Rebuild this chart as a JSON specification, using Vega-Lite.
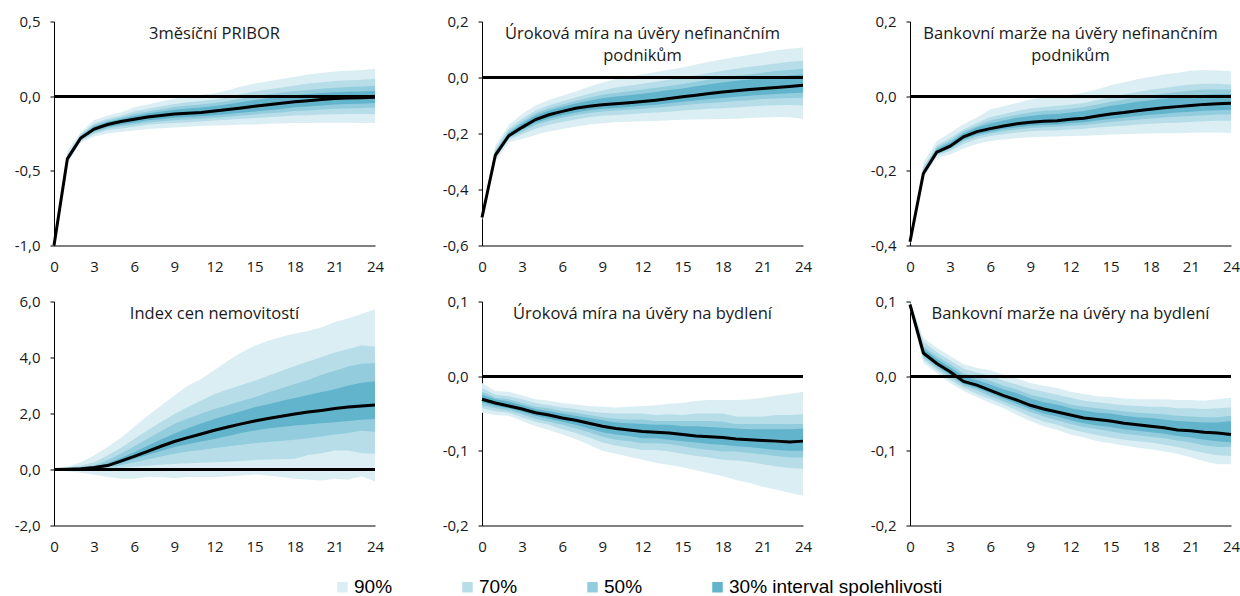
{
  "$schema": "https://vega.github.io/schema/vega-lite/v6.json",
  "background": "white",
  "padding": {"left": 14, "top": 14.5, "right": 5, "bottom": 5},
  "spacing": 20,
  "datasets": {
    "p1": [
      {"h":0,"m":-1.0,"lo90":-1.0,"hi90":-0.99,"lo70":-1.0,"hi70":-0.993,"lo50":-1.0,"hi50":-0.996,"lo30":-1.0,"hi30":-0.998},
      {"h":1,"m":-0.42,"lo90":-0.45,"hi90":-0.37,"lo70":-0.44,"hi70":-0.388,"lo50":-0.434,"hi50":-0.398,"lo30":-0.428,"hi30":-0.406},
      {"h":2,"m":-0.28,"lo90":-0.31,"hi90":-0.24,"lo70":-0.30,"hi70":-0.254,"lo50":-0.294,"hi50":-0.262,"lo30":-0.288,"hi30":-0.269},
      {"h":3,"m":-0.22,"lo90":-0.27,"hi90":-0.16,"lo70":-0.253,"hi70":-0.181,"lo50":-0.243,"hi50":-0.193,"lo30":-0.234,"hi30":-0.203},
      {"h":4,"m":-0.19,"lo90":-0.25,"hi90":-0.13,"lo70":-0.229,"hi70":-0.151,"lo50":-0.217,"hi50":-0.163,"lo30":-0.207,"hi30":-0.173},
      {"h":5,"m":-0.17,"lo90":-0.24,"hi90":-0.11,"lo70":-0.216,"hi70":-0.131,"lo50":-0.202,"hi50":-0.143,"lo30":-0.19,"hi30":-0.153},
      {"h":6,"m":-0.155,"lo90":-0.23,"hi90":-0.075,"lo70":-0.204,"hi70":-0.103,"lo50":-0.189,"hi50":-0.119,"lo30":-0.176,"hi30":-0.133},
      {"h":7,"m":-0.14,"lo90":-0.22,"hi90":-0.055,"lo70":-0.192,"hi70":-0.085,"lo50":-0.176,"hi50":-0.102,"lo30":-0.162,"hi30":-0.116},
      {"h":8,"m":-0.13,"lo90":-0.215,"hi90":-0.035,"lo70":-0.185,"hi70":-0.068,"lo50":-0.168,"hi50":-0.087,"lo30":-0.154,"hi30":-0.103},
      {"h":9,"m":-0.12,"lo90":-0.21,"hi90":-0.015,"lo70":-0.179,"hi70":-0.052,"lo50":-0.161,"hi50":-0.073,"lo30":-0.145,"hi30":-0.091},
      {"h":10,"m":-0.115,"lo90":-0.205,"hi90":0.0,"lo70":-0.174,"hi70":-0.04,"lo50":-0.156,"hi50":-0.063,"lo30":-0.14,"hi30":-0.083},
      {"h":11,"m":-0.11,"lo90":-0.2,"hi90":0.01,"lo70":-0.169,"hi70":-0.032,"lo50":-0.151,"hi50":-0.056,"lo30":-0.135,"hi30":-0.076},
      {"h":12,"m":-0.1,"lo90":-0.197,"hi90":0.02,"lo70":-0.163,"hi70":-0.022,"lo50":-0.144,"hi50":-0.046,"lo30":-0.127,"hi30":-0.066},
      {"h":13,"m":-0.09,"lo90":-0.195,"hi90":0.04,"lo70":-0.158,"hi70":-0.005,"lo50":-0.137,"hi50":-0.032,"lo30":-0.119,"hi30":-0.054},
      {"h":14,"m":-0.08,"lo90":-0.19,"hi90":0.065,"lo70":-0.152,"hi70":0.014,"lo50":-0.13,"hi50":-0.015,"lo30":-0.111,"hi30":-0.039},
      {"h":15,"m":-0.068,"lo90":-0.19,"hi90":0.085,"lo70":-0.147,"hi70":0.031,"lo50":-0.123,"hi50":0.001,"lo30":-0.102,"hi30":-0.025},
      {"h":16,"m":-0.058,"lo90":-0.185,"hi90":0.1,"lo70":-0.141,"hi70":0.045,"lo50":-0.115,"hi50":0.013,"lo30":-0.094,"hi30":-0.014},
      {"h":17,"m":-0.048,"lo90":-0.183,"hi90":0.115,"lo70":-0.136,"hi70":0.058,"lo50":-0.109,"hi50":0.025,"lo30":-0.086,"hi30":-0.002},
      {"h":18,"m":-0.038,"lo90":-0.18,"hi90":0.13,"lo70":-0.13,"hi70":0.071,"lo50":-0.1,"hi50":0.033,"lo30":-0.075,"hi30":0.006},
      {"h":19,"m":-0.03,"lo90":-0.18,"hi90":0.145,"lo70":-0.128,"hi70":0.084,"lo50":-0.096,"hi50":0.042,"lo30":-0.069,"hi30":0.015},
      {"h":20,"m":-0.022,"lo90":-0.178,"hi90":0.155,"lo70":-0.123,"hi70":0.093,"lo50":-0.09,"hi50":0.05,"lo30":-0.062,"hi30":0.022},
      {"h":21,"m":-0.015,"lo90":-0.178,"hi90":0.165,"lo70":-0.121,"hi70":0.102,"lo50":-0.084,"hi50":0.057,"lo30":-0.055,"hi30":0.027},
      {"h":22,"m":-0.012,"lo90":-0.178,"hi90":0.17,"lo70":-0.12,"hi70":0.106,"lo50":-0.082,"hi50":0.062,"lo30":-0.052,"hi30":0.03},
      {"h":23,"m":-0.01,"lo90":-0.18,"hi90":0.175,"lo70":-0.12,"hi70":0.11,"lo50":-0.08,"hi50":0.065,"lo30":-0.05,"hi30":0.032},
      {"h":24,"m":-0.007,"lo90":-0.18,"hi90":0.183,"lo70":-0.119,"hi70":0.117,"lo50":-0.076,"hi50":0.069,"lo30":-0.045,"hi30":0.035}
    ],
    "p2": [
      {"h":0,"m":-0.5,"lo90":-0.51,"hi90":-0.49,"lo70":-0.506,"hi70":-0.494,"lo50":-0.504,"hi50":-0.496,"lo30":-0.502,"hi30":-0.497},
      {"h":1,"m":-0.277,"lo90":-0.3,"hi90":-0.243,"lo70":-0.291,"hi70":-0.255,"lo50":-0.286,"hi50":-0.262,"lo30":-0.282,"hi30":-0.267},
      {"h":2,"m":-0.208,"lo90":-0.23,"hi90":-0.17,"lo70":-0.221,"hi70":-0.183,"lo50":-0.216,"hi50":-0.191,"lo30":-0.213,"hi30":-0.197},
      {"h":3,"m":-0.178,"lo90":-0.22,"hi90":-0.13,"lo70":-0.203,"hi70":-0.147,"lo50":-0.194,"hi50":-0.157,"lo30":-0.187,"hi30":-0.164},
      {"h":4,"m":-0.15,"lo90":-0.205,"hi90":-0.1,"lo70":-0.183,"hi70":-0.118,"lo50":-0.17,"hi50":-0.128,"lo30":-0.162,"hi30":-0.136},
      {"h":5,"m":-0.133,"lo90":-0.193,"hi90":-0.08,"lo70":-0.169,"hi70":-0.099,"lo50":-0.155,"hi50":-0.11,"lo30":-0.146,"hi30":-0.118},
      {"h":6,"m":-0.121,"lo90":-0.184,"hi90":-0.065,"lo70":-0.159,"hi70":-0.085,"lo50":-0.144,"hi50":-0.096,"lo30":-0.135,"hi30":-0.105},
      {"h":7,"m":-0.11,"lo90":-0.176,"hi90":-0.05,"lo70":-0.15,"hi70":-0.071,"lo50":-0.134,"hi50":-0.084,"lo30":-0.125,"hi30":-0.093},
      {"h":8,"m":-0.103,"lo90":-0.168,"hi90":-0.033,"lo70":-0.142,"hi70":-0.058,"lo50":-0.127,"hi50":-0.072,"lo30":-0.117,"hi30":-0.083},
      {"h":9,"m":-0.097,"lo90":-0.163,"hi90":-0.018,"lo70":-0.137,"hi70":-0.046,"lo50":-0.121,"hi50":-0.062,"lo30":-0.112,"hi30":-0.074},
      {"h":10,"m":-0.094,"lo90":-0.16,"hi90":-0.005,"lo70":-0.134,"hi70":-0.036,"lo50":-0.118,"hi50":-0.055,"lo30":-0.109,"hi30":-0.068},
      {"h":11,"m":-0.09,"lo90":-0.158,"hi90":0.004,"lo70":-0.131,"hi70":-0.029,"lo50":-0.115,"hi50":-0.049,"lo30":-0.105,"hi30":-0.063},
      {"h":12,"m":-0.086,"lo90":-0.156,"hi90":0.012,"lo70":-0.128,"hi70":-0.022,"lo50":-0.112,"hi50":-0.043,"lo30":-0.101,"hi30":-0.058},
      {"h":13,"m":-0.081,"lo90":-0.155,"hi90":0.02,"lo70":-0.125,"hi70":-0.015,"lo50":-0.108,"hi50":-0.037,"lo30":-0.097,"hi30":-0.052},
      {"h":14,"m":-0.075,"lo90":-0.153,"hi90":0.028,"lo70":-0.122,"hi70":-0.008,"lo50":-0.104,"hi50":-0.03,"lo30":-0.092,"hi30":-0.045},
      {"h":15,"m":-0.069,"lo90":-0.151,"hi90":0.036,"lo70":-0.118,"hi70":0.0,"lo50":-0.099,"hi50":-0.023,"lo30":-0.087,"hi30":-0.039},
      {"h":16,"m":-0.063,"lo90":-0.15,"hi90":0.046,"lo70":-0.115,"hi70":0.008,"lo50":-0.095,"hi50":-0.015,"lo30":-0.082,"hi30":-0.031},
      {"h":17,"m":-0.057,"lo90":-0.149,"hi90":0.056,"lo70":-0.112,"hi70":0.016,"lo50":-0.091,"hi50":-0.007,"lo30":-0.077,"hi30":-0.024},
      {"h":18,"m":-0.052,"lo90":-0.148,"hi90":0.065,"lo70":-0.11,"hi70":0.024,"lo50":-0.088,"hi50":0.0,"lo30":-0.073,"hi30":-0.018},
      {"h":19,"m":-0.047,"lo90":-0.147,"hi90":0.073,"lo70":-0.107,"hi70":0.031,"lo50":-0.084,"hi50":0.006,"lo30":-0.069,"hi30":-0.012},
      {"h":20,"m":-0.043,"lo90":-0.145,"hi90":0.081,"lo70":-0.104,"hi70":0.038,"lo50":-0.081,"hi50":0.012,"lo30":-0.065,"hi30":-0.007},
      {"h":21,"m":-0.039,"lo90":-0.143,"hi90":0.089,"lo70":-0.101,"hi70":0.044,"lo50":-0.077,"hi50":0.017,"lo30":-0.062,"hi30":-0.002},
      {"h":22,"m":-0.036,"lo90":-0.141,"hi90":0.097,"lo70":-0.099,"hi70":0.05,"lo50":-0.075,"hi50":0.023,"lo30":-0.059,"hi30":0.003},
      {"h":23,"m":-0.032,"lo90":-0.142,"hi90":0.103,"lo70":-0.098,"hi70":0.056,"lo50":-0.073,"hi50":0.027,"lo30":-0.056,"hi30":0.007},
      {"h":24,"m":-0.028,"lo90":-0.148,"hi90":0.107,"lo70":-0.1,"hi70":0.06,"lo50":-0.072,"hi50":0.031,"lo30":-0.054,"hi30":0.011}
    ],
    "p3": [
      {"h":0,"m":-0.39,"lo90":-0.395,"hi90":-0.385,"lo70":-0.393,"hi70":-0.387,"lo50":-0.392,"hi50":-0.388,"lo30":-0.391,"hi30":-0.389},
      {"h":1,"m":-0.207,"lo90":-0.218,"hi90":-0.178,"lo70":-0.214,"hi70":-0.19,"lo50":-0.211,"hi50":-0.195,"lo30":-0.21,"hi30":-0.199},
      {"h":2,"m":-0.15,"lo90":-0.165,"hi90":-0.12,"lo70":-0.159,"hi70":-0.132,"lo50":-0.156,"hi50":-0.137,"lo30":-0.153,"hi30":-0.142},
      {"h":3,"m":-0.134,"lo90":-0.156,"hi90":-0.098,"lo70":-0.147,"hi70":-0.112,"lo50":-0.142,"hi50":-0.119,"lo30":-0.139,"hi30":-0.124},
      {"h":4,"m":-0.109,"lo90":-0.14,"hi90":-0.075,"lo70":-0.128,"hi70":-0.089,"lo50":-0.121,"hi50":-0.094,"lo30":-0.116,"hi30":-0.099},
      {"h":5,"m":-0.095,"lo90":-0.128,"hi90":-0.057,"lo70":-0.115,"hi70":-0.072,"lo50":-0.108,"hi50":-0.079,"lo30":-0.103,"hi30":-0.084},
      {"h":6,"m":-0.087,"lo90":-0.12,"hi90":-0.036,"lo70":-0.107,"hi70":-0.056,"lo50":-0.1,"hi50":-0.065,"lo30":-0.095,"hi30":-0.073},
      {"h":7,"m":-0.08,"lo90":-0.116,"hi90":-0.027,"lo70":-0.102,"hi70":-0.048,"lo50":-0.094,"hi50":-0.057,"lo30":-0.088,"hi30":-0.065},
      {"h":8,"m":-0.074,"lo90":-0.113,"hi90":-0.018,"lo70":-0.097,"hi70":-0.04,"lo50":-0.089,"hi50":-0.05,"lo30":-0.083,"hi30":-0.058},
      {"h":9,"m":-0.07,"lo90":-0.11,"hi90":-0.009,"lo70":-0.094,"hi70":-0.033,"lo50":-0.085,"hi50":-0.044,"lo30":-0.079,"hi30":-0.053},
      {"h":10,"m":-0.067,"lo90":-0.109,"hi90":-0.003,"lo70":-0.092,"hi70":-0.029,"lo50":-0.083,"hi50":-0.039,"lo30":-0.077,"hi30":-0.049},
      {"h":11,"m":-0.066,"lo90":-0.108,"hi90":0.0,"lo70":-0.091,"hi70":-0.026,"lo50":-0.082,"hi50":-0.038,"lo30":-0.076,"hi30":-0.048},
      {"h":12,"m":-0.062,"lo90":-0.107,"hi90":0.004,"lo70":-0.089,"hi70":-0.022,"lo50":-0.079,"hi50":-0.034,"lo30":-0.072,"hi30":-0.044},
      {"h":13,"m":-0.059,"lo90":-0.106,"hi90":0.01,"lo70":-0.087,"hi70":-0.018,"lo50":-0.077,"hi50":-0.029,"lo30":-0.07,"hi30":-0.04},
      {"h":14,"m":-0.053,"lo90":-0.105,"hi90":0.018,"lo70":-0.084,"hi70":-0.01,"lo50":-0.073,"hi50":-0.022,"lo30":-0.065,"hi30":-0.033},
      {"h":15,"m":-0.048,"lo90":-0.103,"hi90":0.029,"lo70":-0.081,"hi70":-0.002,"lo50":-0.069,"hi50":-0.015,"lo30":-0.061,"hi30":-0.026},
      {"h":16,"m":-0.044,"lo90":-0.102,"hi90":0.037,"lo70":-0.079,"hi70":0.005,"lo50":-0.066,"hi50":-0.009,"lo30":-0.057,"hi30":-0.021},
      {"h":17,"m":-0.039,"lo90":-0.101,"hi90":0.045,"lo70":-0.076,"hi70":0.011,"lo50":-0.063,"hi50":-0.003,"lo30":-0.053,"hi30":-0.015},
      {"h":18,"m":-0.035,"lo90":-0.1,"hi90":0.052,"lo70":-0.074,"hi70":0.017,"lo50":-0.06,"hi50":0.002,"lo30":-0.05,"hi30":-0.011},
      {"h":19,"m":-0.031,"lo90":-0.099,"hi90":0.058,"lo70":-0.072,"hi70":0.022,"lo50":-0.057,"hi50":0.007,"lo30":-0.047,"hi30":-0.006},
      {"h":20,"m":-0.028,"lo90":-0.099,"hi90":0.063,"lo70":-0.071,"hi70":0.027,"lo50":-0.055,"hi50":0.011,"lo30":-0.044,"hi30":-0.003},
      {"h":21,"m":-0.025,"lo90":-0.098,"hi90":0.068,"lo70":-0.069,"hi70":0.031,"lo50":-0.053,"hi50":0.015,"lo30":-0.042,"hi30":0.001},
      {"h":22,"m":-0.022,"lo90":-0.097,"hi90":0.07,"lo70":-0.067,"hi70":0.033,"lo50":-0.051,"hi50":0.018,"lo30":-0.039,"hi30":0.004},
      {"h":23,"m":-0.02,"lo90":-0.097,"hi90":0.069,"lo70":-0.066,"hi70":0.033,"lo50":-0.049,"hi50":0.018,"lo30":-0.038,"hi30":0.005},
      {"h":24,"m":-0.019,"lo90":-0.098,"hi90":0.067,"lo70":-0.066,"hi70":0.031,"lo50":-0.049,"hi50":0.018,"lo30":-0.037,"hi30":0.005}
    ],
    "p4": [
      {"h":0,"m":0.0,"lo90":0.0,"hi90":0.0,"lo70":0.0,"hi70":0.0,"lo50":0.0,"hi50":0.0,"lo30":0.0,"hi30":0.0},
      {"h":1,"m":0.01,"lo90":-0.06,"hi90":0.1,"lo70":-0.02,"hi70":0.06,"lo50":-0.005,"hi50":0.04,"lo30":0.0,"hi30":0.025},
      {"h":2,"m":0.03,"lo90":-0.12,"hi90":0.26,"lo70":-0.03,"hi70":0.14,"lo50":0.0,"hi50":0.08,"lo30":0.015,"hi30":0.055},
      {"h":3,"m":0.07,"lo90":-0.19,"hi90":0.5,"lo70":0.0,"hi70":0.26,"lo50":0.02,"hi50":0.14,"lo30":0.05,"hi30":0.1},
      {"h":4,"m":0.14,"lo90":-0.27,"hi90":0.8,"lo70":0.02,"hi70":0.5,"lo50":0.06,"hi50":0.33,"lo30":0.1,"hi30":0.22},
      {"h":5,"m":0.3,"lo90":-0.33,"hi90":1.13,"lo70":0.05,"hi70":0.78,"lo50":0.15,"hi50":0.57,"lo30":0.22,"hi30":0.41},
      {"h":6,"m":0.47,"lo90":-0.33,"hi90":1.53,"lo70":0.1,"hi70":1.09,"lo50":0.26,"hi50":0.83,"lo30":0.38,"hi30":0.62},
      {"h":7,"m":0.65,"lo90":-0.27,"hi90":1.92,"lo70":0.13,"hi70":1.4,"lo50":0.36,"hi50":1.1,"lo30":0.52,"hi30":0.85},
      {"h":8,"m":0.83,"lo90":-0.27,"hi90":2.28,"lo70":0.17,"hi70":1.7,"lo50":0.46,"hi50":1.37,"lo30":0.66,"hi30":1.07},
      {"h":9,"m":1.0,"lo90":-0.31,"hi90":2.64,"lo70":0.2,"hi70":1.98,"lo50":0.56,"hi50":1.63,"lo30":0.8,"hi30":1.29},
      {"h":10,"m":1.14,"lo90":-0.27,"hi90":2.99,"lo70":0.22,"hi70":2.23,"lo50":0.64,"hi50":1.82,"lo30":0.9,"hi30":1.47},
      {"h":11,"m":1.27,"lo90":-0.27,"hi90":3.23,"lo70":0.24,"hi70":2.46,"lo50":0.7,"hi50":2.0,"lo30":1.0,"hi30":1.64},
      {"h":12,"m":1.4,"lo90":-0.27,"hi90":3.55,"lo70":0.26,"hi70":2.7,"lo50":0.77,"hi50":2.16,"lo30":1.09,"hi30":1.8},
      {"h":13,"m":1.52,"lo90":-0.25,"hi90":3.88,"lo70":0.28,"hi70":2.86,"lo50":0.82,"hi50":2.3,"lo30":1.2,"hi30":1.95},
      {"h":14,"m":1.63,"lo90":-0.21,"hi90":4.18,"lo70":0.3,"hi70":3.02,"lo50":0.88,"hi50":2.45,"lo30":1.3,"hi30":2.08},
      {"h":15,"m":1.73,"lo90":-0.18,"hi90":4.42,"lo70":0.34,"hi70":3.17,"lo50":0.94,"hi50":2.58,"lo30":1.39,"hi30":2.22},
      {"h":16,"m":1.82,"lo90":-0.21,"hi90":4.6,"lo70":0.36,"hi70":3.35,"lo50":0.98,"hi50":2.75,"lo30":1.46,"hi30":2.33},
      {"h":17,"m":1.9,"lo90":-0.27,"hi90":4.74,"lo70":0.37,"hi70":3.52,"lo50":1.02,"hi50":2.9,"lo30":1.52,"hi30":2.45},
      {"h":18,"m":1.98,"lo90":-0.33,"hi90":4.86,"lo70":0.38,"hi70":3.7,"lo50":1.06,"hi50":3.05,"lo30":1.57,"hi30":2.55},
      {"h":19,"m":2.05,"lo90":-0.37,"hi90":4.95,"lo70":0.52,"hi70":3.86,"lo50":1.12,"hi50":3.2,"lo30":1.61,"hi30":2.66},
      {"h":20,"m":2.11,"lo90":-0.39,"hi90":5.07,"lo70":0.58,"hi70":4.02,"lo50":1.18,"hi50":3.38,"lo30":1.65,"hi30":2.77},
      {"h":21,"m":2.18,"lo90":-0.33,"hi90":5.27,"lo70":0.68,"hi70":4.18,"lo50":1.25,"hi50":3.53,"lo30":1.69,"hi30":2.87},
      {"h":22,"m":2.23,"lo90":-0.37,"hi90":5.39,"lo70":0.68,"hi70":4.3,"lo50":1.3,"hi50":3.68,"lo30":1.73,"hi30":3.0},
      {"h":23,"m":2.27,"lo90":-0.24,"hi90":5.55,"lo70":0.58,"hi70":4.44,"lo50":1.38,"hi50":3.78,"lo30":1.78,"hi30":3.1},
      {"h":24,"m":2.3,"lo90":-0.43,"hi90":5.72,"lo70":0.56,"hi70":4.38,"lo50":1.35,"hi50":3.8,"lo30":1.8,"hi30":3.15}
    ],
    "p5": [
      {"h":0,"m":-0.031,"lo90":-0.049,"hi90":-0.009,"lo70":-0.043,"hi70":-0.016,"lo50":-0.039,"hi50":-0.021,"lo30":-0.035,"hi30":-0.025},
      {"h":1,"m":-0.036,"lo90":-0.052,"hi90":-0.02,"lo70":-0.047,"hi70":-0.025,"lo50":-0.043,"hi50":-0.029,"lo30":-0.04,"hi30":-0.031},
      {"h":2,"m":-0.04,"lo90":-0.053,"hi90":-0.021,"lo70":-0.049,"hi70":-0.027,"lo50":-0.046,"hi50":-0.031,"lo30":-0.043,"hi30":-0.034},
      {"h":3,"m":-0.044,"lo90":-0.06,"hi90":-0.026,"lo70":-0.055,"hi70":-0.031,"lo50":-0.051,"hi50":-0.036,"lo30":-0.048,"hi30":-0.039},
      {"h":4,"m":-0.049,"lo90":-0.067,"hi90":-0.031,"lo70":-0.061,"hi70":-0.036,"lo50":-0.057,"hi50":-0.041,"lo30":-0.053,"hi30":-0.044},
      {"h":5,"m":-0.052,"lo90":-0.072,"hi90":-0.033,"lo70":-0.065,"hi70":-0.039,"lo50":-0.061,"hi50":-0.043,"lo30":-0.057,"hi30":-0.047},
      {"h":6,"m":-0.056,"lo90":-0.078,"hi90":-0.036,"lo70":-0.071,"hi70":-0.042,"lo50":-0.065,"hi50":-0.047,"lo30":-0.061,"hi30":-0.05},
      {"h":7,"m":-0.059,"lo90":-0.084,"hi90":-0.038,"lo70":-0.076,"hi70":-0.044,"lo50":-0.07,"hi50":-0.049,"lo30":-0.065,"hi30":-0.053},
      {"h":8,"m":-0.063,"lo90":-0.092,"hi90":-0.04,"lo70":-0.082,"hi70":-0.047,"lo50":-0.075,"hi50":-0.052,"lo30":-0.07,"hi30":-0.056},
      {"h":9,"m":-0.067,"lo90":-0.1,"hi90":-0.041,"lo70":-0.089,"hi70":-0.049,"lo50":-0.081,"hi50":-0.055,"lo30":-0.075,"hi30":-0.059},
      {"h":10,"m":-0.07,"lo90":-0.104,"hi90":-0.042,"lo70":-0.093,"hi70":-0.05,"lo50":-0.085,"hi50":-0.057,"lo30":-0.078,"hi30":-0.062},
      {"h":11,"m":-0.072,"lo90":-0.108,"hi90":-0.041,"lo70":-0.096,"hi70":-0.05,"lo50":-0.087,"hi50":-0.058,"lo30":-0.08,"hi30":-0.063},
      {"h":12,"m":-0.074,"lo90":-0.112,"hi90":-0.04,"lo70":-0.099,"hi70":-0.05,"lo50":-0.09,"hi50":-0.058,"lo30":-0.083,"hi30":-0.064},
      {"h":13,"m":-0.075,"lo90":-0.116,"hi90":-0.039,"lo70":-0.099,"hi70":-0.052,"lo50":-0.09,"hi50":-0.06,"lo30":-0.083,"hi30":-0.065},
      {"h":14,"m":-0.076,"lo90":-0.119,"hi90":-0.037,"lo70":-0.101,"hi70":-0.051,"lo50":-0.091,"hi50":-0.06,"lo30":-0.085,"hi30":-0.065},
      {"h":15,"m":-0.078,"lo90":-0.122,"hi90":-0.036,"lo70":-0.104,"hi70":-0.052,"lo50":-0.094,"hi50":-0.06,"lo30":-0.087,"hi30":-0.067},
      {"h":16,"m":-0.08,"lo90":-0.126,"hi90":-0.033,"lo70":-0.107,"hi70":-0.05,"lo50":-0.097,"hi50":-0.06,"lo30":-0.089,"hi30":-0.067},
      {"h":17,"m":-0.081,"lo90":-0.13,"hi90":-0.032,"lo70":-0.109,"hi70":-0.05,"lo50":-0.099,"hi50":-0.06,"lo30":-0.091,"hi30":-0.068},
      {"h":18,"m":-0.082,"lo90":-0.134,"hi90":-0.032,"lo70":-0.112,"hi70":-0.05,"lo50":-0.101,"hi50":-0.061,"lo30":-0.092,"hi30":-0.069},
      {"h":19,"m":-0.084,"lo90":-0.139,"hi90":-0.032,"lo70":-0.113,"hi70":-0.054,"lo50":-0.101,"hi50":-0.064,"lo30":-0.094,"hi30":-0.07},
      {"h":20,"m":-0.085,"lo90":-0.143,"hi90":-0.031,"lo70":-0.115,"hi70":-0.054,"lo50":-0.103,"hi50":-0.064,"lo30":-0.095,"hi30":-0.071},
      {"h":21,"m":-0.086,"lo90":-0.148,"hi90":-0.029,"lo70":-0.118,"hi70":-0.054,"lo50":-0.105,"hi50":-0.064,"lo30":-0.097,"hi30":-0.071},
      {"h":22,"m":-0.087,"lo90":-0.152,"hi90":-0.026,"lo70":-0.121,"hi70":-0.052,"lo50":-0.107,"hi50":-0.064,"lo30":-0.099,"hi30":-0.071},
      {"h":23,"m":-0.088,"lo90":-0.156,"hi90":-0.024,"lo70":-0.123,"hi70":-0.052,"lo50":-0.109,"hi50":-0.064,"lo30":-0.1,"hi30":-0.071},
      {"h":24,"m":-0.087,"lo90":-0.16,"hi90":-0.021,"lo70":-0.124,"hi70":-0.051,"lo50":-0.109,"hi50":-0.064,"lo30":-0.1,"hi30":-0.07}
    ],
    "p6": [
      {"h":0,"m":0.096,"lo90":0.089,"hi90":0.1,"lo70":0.091,"hi70":0.099,"lo50":0.093,"hi50":0.098,"lo30":0.094,"hi30":0.097},
      {"h":1,"m":0.031,"lo90":0.018,"hi90":0.051,"lo70":0.022,"hi70":0.046,"lo50":0.025,"hi50":0.04,"lo30":0.028,"hi30":0.037},
      {"h":2,"m":0.017,"lo90":0.004,"hi90":0.038,"lo70":0.008,"hi70":0.032,"lo50":0.011,"hi50":0.027,"lo30":0.014,"hi30":0.023},
      {"h":3,"m":0.006,"lo90":-0.009,"hi90":0.027,"lo70":-0.005,"hi70":0.021,"lo50":-0.001,"hi50":0.016,"lo30":0.002,"hi30":0.012},
      {"h":4,"m":-0.007,"lo90":-0.02,"hi90":0.016,"lo70":-0.016,"hi70":0.01,"lo50":-0.013,"hi50":0.004,"lo30":-0.01,"hi30":0.0},
      {"h":5,"m":-0.012,"lo90":-0.028,"hi90":0.011,"lo70":-0.024,"hi70":0.005,"lo50":-0.019,"hi50":-0.001,"lo30":-0.016,"hi30":-0.005},
      {"h":6,"m":-0.019,"lo90":-0.036,"hi90":0.008,"lo70":-0.031,"hi70":0.001,"lo50":-0.027,"hi50":-0.006,"lo30":-0.023,"hi30":-0.011},
      {"h":7,"m":-0.026,"lo90":-0.043,"hi90":0.002,"lo70":-0.038,"hi70":-0.006,"lo50":-0.034,"hi50":-0.013,"lo30":-0.03,"hi30":-0.018},
      {"h":8,"m":-0.032,"lo90":-0.052,"hi90":-0.003,"lo70":-0.046,"hi70":-0.011,"lo50":-0.041,"hi50":-0.018,"lo30":-0.037,"hi30":-0.023},
      {"h":9,"m":-0.039,"lo90":-0.06,"hi90":-0.009,"lo70":-0.054,"hi70":-0.017,"lo50":-0.048,"hi50":-0.025,"lo30":-0.044,"hi30":-0.03},
      {"h":10,"m":-0.044,"lo90":-0.067,"hi90":-0.013,"lo70":-0.061,"hi70":-0.021,"lo50":-0.054,"hi50":-0.029,"lo30":-0.05,"hi30":-0.035},
      {"h":11,"m":-0.048,"lo90":-0.072,"hi90":-0.016,"lo70":-0.065,"hi70":-0.025,"lo50":-0.059,"hi50":-0.033,"lo30":-0.054,"hi30":-0.038},
      {"h":12,"m":-0.052,"lo90":-0.078,"hi90":-0.021,"lo70":-0.071,"hi70":-0.029,"lo50":-0.064,"hi50":-0.038,"lo30":-0.059,"hi30":-0.043},
      {"h":13,"m":-0.056,"lo90":-0.082,"hi90":-0.024,"lo70":-0.075,"hi70":-0.033,"lo50":-0.068,"hi50":-0.041,"lo30":-0.063,"hi30":-0.046},
      {"h":14,"m":-0.058,"lo90":-0.087,"hi90":-0.027,"lo70":-0.079,"hi70":-0.035,"lo50":-0.071,"hi50":-0.043,"lo30":-0.066,"hi30":-0.049},
      {"h":15,"m":-0.06,"lo90":-0.09,"hi90":-0.028,"lo70":-0.082,"hi70":-0.037,"lo50":-0.074,"hi50":-0.045,"lo30":-0.068,"hi30":-0.05},
      {"h":16,"m":-0.063,"lo90":-0.093,"hi90":-0.03,"lo70":-0.085,"hi70":-0.039,"lo50":-0.077,"hi50":-0.047,"lo30":-0.071,"hi30":-0.053},
      {"h":17,"m":-0.065,"lo90":-0.096,"hi90":-0.031,"lo70":-0.087,"hi70":-0.04,"lo50":-0.079,"hi50":-0.049,"lo30":-0.073,"hi30":-0.055},
      {"h":18,"m":-0.067,"lo90":-0.098,"hi90":-0.031,"lo70":-0.089,"hi70":-0.041,"lo50":-0.081,"hi50":-0.05,"lo30":-0.075,"hi30":-0.056},
      {"h":19,"m":-0.069,"lo90":-0.101,"hi90":-0.031,"lo70":-0.092,"hi70":-0.041,"lo50":-0.083,"hi50":-0.051,"lo30":-0.077,"hi30":-0.058},
      {"h":20,"m":-0.072,"lo90":-0.104,"hi90":-0.032,"lo70":-0.095,"hi70":-0.043,"lo50":-0.086,"hi50":-0.053,"lo30":-0.08,"hi30":-0.06},
      {"h":21,"m":-0.073,"lo90":-0.109,"hi90":-0.032,"lo70":-0.099,"hi70":-0.043,"lo50":-0.089,"hi50":-0.054,"lo30":-0.082,"hi30":-0.061},
      {"h":22,"m":-0.075,"lo90":-0.114,"hi90":-0.033,"lo70":-0.103,"hi70":-0.044,"lo50":-0.093,"hi50":-0.055,"lo30":-0.085,"hi30":-0.062},
      {"h":23,"m":-0.076,"lo90":-0.118,"hi90":-0.031,"lo70":-0.106,"hi70":-0.043,"lo50":-0.095,"hi50":-0.055,"lo30":-0.087,"hi30":-0.062},
      {"h":24,"m":-0.078,"lo90":-0.118,"hi90":-0.029,"lo70":-0.107,"hi70":-0.042,"lo50":-0.095,"hi50":-0.053,"lo30":-0.089,"hi30":-0.06}
    ]
  },
  "vconcat": [
    {
      "spacing": 58,
      "hconcat": [
        {
          "width": 321, "height": 224,
          "data": {"name": "p1"},
          "layer": [
            {"mark": "area", "encoding": {"x": {"field": "h", "type": "quantitative", "scale": {"domain": [0, 24], "nice": false}, "axis": {"values": [0,3,6,9,12,15,18,21,24], "format": "d"}}, "y": {"field": "lo90", "type": "quantitative", "scale": {"domain": [-1, 0.5], "nice": false, "zero": false}, "axis": {"values": [-1, -0.5, 0, 0.5], "format": ".1f"}}, "y2": {"field": "hi90"}, "color": {"datum": "90%", "type": "nominal", "scale": {"domain": ["90%", "70%", "50%", "30% interval spolehlivosti"], "range": ["#dbeef3", "#b7dee8", "#93cddd", "#61b4cb"]}, "legend": {"orient": "none", "legendX": 279, "legendY": 556, "direction": "horizontal", "title": null, "symbolType": "square", "symbolSize": 110, "symbolStrokeWidth": 0, "symbolOpacity": 1, "labelFont": "Liberation Sans", "labelFontSize": 19, "labelColor": "#000", "labelLimit": 400, "labelOffset": 2, "columnPadding": 65}}}},
            {"mark": "area", "encoding": {"x": {"field": "h", "type": "quantitative"}, "y": {"field": "lo70", "type": "quantitative"}, "y2": {"field": "hi70"}, "color": {"datum": "70%", "type": "nominal"}}},
            {"mark": "area", "encoding": {"x": {"field": "h", "type": "quantitative"}, "y": {"field": "lo50", "type": "quantitative"}, "y2": {"field": "hi50"}, "color": {"datum": "50%", "type": "nominal"}}},
            {"mark": "area", "encoding": {"x": {"field": "h", "type": "quantitative"}, "y": {"field": "lo30", "type": "quantitative"}, "y2": {"field": "hi30"}, "color": {"datum": "30% interval spolehlivosti", "type": "nominal"}}},
            {"mark": {"type": "rule", "color": "#000", "strokeWidth": 2.5}, "encoding": {"y": {"datum": 0, "type": "quantitative"}}},
            {"mark": {"type": "line", "color": "#000", "strokeWidth": 3}, "encoding": {"x": {"field": "h", "type": "quantitative"}, "y": {"field": "m", "type": "quantitative"}}},
            {"transform": [{"filter": "datum.h === 0"}], "mark": {"type": "text", "baseline": "top", "align": "center", "dy": 4, "font": "Open Sans", "fontSize": 16.5, "fill": "#1a1a1a", "lineBreak": "\n", "lineHeight": 22}, "encoding": {"x": {"datum": 12, "type": "quantitative"}, "y": {"datum": 0.5, "type": "quantitative"}, "text": {"value": "3měsíční PRIBOR"}}}
          ]
        },
        {
          "width": 321, "height": 224,
          "data": {"name": "p2"},
          "layer": [
            {"mark": "area", "encoding": {"x": {"field": "h", "type": "quantitative", "scale": {"domain": [0, 24], "nice": false}, "axis": {"values": [0,3,6,9,12,15,18,21,24], "format": "d"}}, "y": {"field": "lo90", "type": "quantitative", "scale": {"domain": [-0.6, 0.2], "nice": false, "zero": false}, "axis": {"values": [-0.6, -0.4, -0.2, 0, 0.2], "format": ".1f"}}, "y2": {"field": "hi90"}, "color": {"datum": "90%", "type": "nominal"}}},
            {"mark": "area", "encoding": {"x": {"field": "h", "type": "quantitative"}, "y": {"field": "lo70", "type": "quantitative"}, "y2": {"field": "hi70"}, "color": {"datum": "70%", "type": "nominal"}}},
            {"mark": "area", "encoding": {"x": {"field": "h", "type": "quantitative"}, "y": {"field": "lo50", "type": "quantitative"}, "y2": {"field": "hi50"}, "color": {"datum": "50%", "type": "nominal"}}},
            {"mark": "area", "encoding": {"x": {"field": "h", "type": "quantitative"}, "y": {"field": "lo30", "type": "quantitative"}, "y2": {"field": "hi30"}, "color": {"datum": "30% interval spolehlivosti", "type": "nominal"}}},
            {"mark": {"type": "rule", "color": "#000", "strokeWidth": 2.5}, "encoding": {"y": {"datum": 0, "type": "quantitative"}}},
            {"mark": {"type": "line", "color": "#000", "strokeWidth": 3}, "encoding": {"x": {"field": "h", "type": "quantitative"}, "y": {"field": "m", "type": "quantitative"}}},
            {"transform": [{"filter": "datum.h === 0"}], "mark": {"type": "text", "baseline": "top", "align": "center", "dy": 4, "font": "Open Sans", "fontSize": 16.5, "fill": "#1a1a1a", "lineBreak": "\n", "lineHeight": 22}, "encoding": {"x": {"datum": 12, "type": "quantitative"}, "y": {"datum": 0.2, "type": "quantitative"}, "text": {"value": "Úroková míra na úvěry nefinančním\npodnikům"}}}
          ]
        },
        {
          "width": 321, "height": 224,
          "data": {"name": "p3"},
          "layer": [
            {"mark": "area", "encoding": {"x": {"field": "h", "type": "quantitative", "scale": {"domain": [0, 24], "nice": false}, "axis": {"values": [0,3,6,9,12,15,18,21,24], "format": "d"}}, "y": {"field": "lo90", "type": "quantitative", "scale": {"domain": [-0.4, 0.2], "nice": false, "zero": false}, "axis": {"values": [-0.4, -0.2, 0, 0.2], "format": ".1f"}}, "y2": {"field": "hi90"}, "color": {"datum": "90%", "type": "nominal"}}},
            {"mark": "area", "encoding": {"x": {"field": "h", "type": "quantitative"}, "y": {"field": "lo70", "type": "quantitative"}, "y2": {"field": "hi70"}, "color": {"datum": "70%", "type": "nominal"}}},
            {"mark": "area", "encoding": {"x": {"field": "h", "type": "quantitative"}, "y": {"field": "lo50", "type": "quantitative"}, "y2": {"field": "hi50"}, "color": {"datum": "50%", "type": "nominal"}}},
            {"mark": "area", "encoding": {"x": {"field": "h", "type": "quantitative"}, "y": {"field": "lo30", "type": "quantitative"}, "y2": {"field": "hi30"}, "color": {"datum": "30% interval spolehlivosti", "type": "nominal"}}},
            {"mark": {"type": "rule", "color": "#000", "strokeWidth": 2.5}, "encoding": {"y": {"datum": 0, "type": "quantitative"}}},
            {"mark": {"type": "line", "color": "#000", "strokeWidth": 3}, "encoding": {"x": {"field": "h", "type": "quantitative"}, "y": {"field": "m", "type": "quantitative"}}},
            {"transform": [{"filter": "datum.h === 0"}], "mark": {"type": "text", "baseline": "top", "align": "center", "dy": 4, "font": "Open Sans", "fontSize": 16.5, "fill": "#1a1a1a", "lineBreak": "\n", "lineHeight": 22}, "encoding": {"x": {"datum": 12, "type": "quantitative"}, "y": {"datum": 0.2, "type": "quantitative"}, "text": {"value": "Bankovní marže na úvěry nefinančním\npodnikům"}}}
          ]
        }
      ]
    },
    {
      "spacing": 58,
      "hconcat": [
        {
          "width": 321, "height": 224,
          "data": {"name": "p4"},
          "layer": [
            {"mark": "area", "encoding": {"x": {"field": "h", "type": "quantitative", "scale": {"domain": [0, 24], "nice": false}, "axis": {"values": [0,3,6,9,12,15,18,21,24], "format": "d"}}, "y": {"field": "lo90", "type": "quantitative", "scale": {"domain": [-2, 6], "nice": false, "zero": false}, "axis": {"values": [-2, 0, 2, 4, 6], "format": ".1f"}}, "y2": {"field": "hi90"}, "color": {"datum": "90%", "type": "nominal"}}},
            {"mark": "area", "encoding": {"x": {"field": "h", "type": "quantitative"}, "y": {"field": "lo70", "type": "quantitative"}, "y2": {"field": "hi70"}, "color": {"datum": "70%", "type": "nominal"}}},
            {"mark": "area", "encoding": {"x": {"field": "h", "type": "quantitative"}, "y": {"field": "lo50", "type": "quantitative"}, "y2": {"field": "hi50"}, "color": {"datum": "50%", "type": "nominal"}}},
            {"mark": "area", "encoding": {"x": {"field": "h", "type": "quantitative"}, "y": {"field": "lo30", "type": "quantitative"}, "y2": {"field": "hi30"}, "color": {"datum": "30% interval spolehlivosti", "type": "nominal"}}},
            {"mark": {"type": "rule", "color": "#000", "strokeWidth": 2.5}, "encoding": {"y": {"datum": 0, "type": "quantitative"}}},
            {"mark": {"type": "line", "color": "#000", "strokeWidth": 3}, "encoding": {"x": {"field": "h", "type": "quantitative"}, "y": {"field": "m", "type": "quantitative"}}},
            {"transform": [{"filter": "datum.h === 0"}], "mark": {"type": "text", "baseline": "top", "align": "center", "dy": 4, "font": "Open Sans", "fontSize": 16.5, "fill": "#1a1a1a", "lineBreak": "\n", "lineHeight": 22}, "encoding": {"x": {"datum": 12, "type": "quantitative"}, "y": {"datum": 6, "type": "quantitative"}, "text": {"value": "Index cen nemovitostí"}}}
          ]
        },
        {
          "width": 321, "height": 224,
          "data": {"name": "p5"},
          "layer": [
            {"mark": "area", "encoding": {"x": {"field": "h", "type": "quantitative", "scale": {"domain": [0, 24], "nice": false}, "axis": {"values": [0,3,6,9,12,15,18,21,24], "format": "d"}}, "y": {"field": "lo90", "type": "quantitative", "scale": {"domain": [-0.2, 0.1], "nice": false, "zero": false}, "axis": {"values": [-0.2, -0.1, 0, 0.1], "format": ".1f"}}, "y2": {"field": "hi90"}, "color": {"datum": "90%", "type": "nominal"}}},
            {"mark": "area", "encoding": {"x": {"field": "h", "type": "quantitative"}, "y": {"field": "lo70", "type": "quantitative"}, "y2": {"field": "hi70"}, "color": {"datum": "70%", "type": "nominal"}}},
            {"mark": "area", "encoding": {"x": {"field": "h", "type": "quantitative"}, "y": {"field": "lo50", "type": "quantitative"}, "y2": {"field": "hi50"}, "color": {"datum": "50%", "type": "nominal"}}},
            {"mark": "area", "encoding": {"x": {"field": "h", "type": "quantitative"}, "y": {"field": "lo30", "type": "quantitative"}, "y2": {"field": "hi30"}, "color": {"datum": "30% interval spolehlivosti", "type": "nominal"}}},
            {"mark": {"type": "rule", "color": "#000", "strokeWidth": 2.5}, "encoding": {"y": {"datum": 0, "type": "quantitative"}}},
            {"mark": {"type": "line", "color": "#000", "strokeWidth": 3}, "encoding": {"x": {"field": "h", "type": "quantitative"}, "y": {"field": "m", "type": "quantitative"}}},
            {"transform": [{"filter": "datum.h === 0"}], "mark": {"type": "text", "baseline": "top", "align": "center", "dy": 4, "font": "Open Sans", "fontSize": 16.5, "fill": "#1a1a1a", "lineBreak": "\n", "lineHeight": 22}, "encoding": {"x": {"datum": 12, "type": "quantitative"}, "y": {"datum": 0.1, "type": "quantitative"}, "text": {"value": "Úroková míra na úvěry na bydlení"}}}
          ]
        },
        {
          "width": 321, "height": 224,
          "data": {"name": "p6"},
          "layer": [
            {"mark": "area", "encoding": {"x": {"field": "h", "type": "quantitative", "scale": {"domain": [0, 24], "nice": false}, "axis": {"values": [0,3,6,9,12,15,18,21,24], "format": "d"}}, "y": {"field": "lo90", "type": "quantitative", "scale": {"domain": [-0.2, 0.1], "nice": false, "zero": false}, "axis": {"values": [-0.2, -0.1, 0, 0.1], "format": ".1f"}}, "y2": {"field": "hi90"}, "color": {"datum": "90%", "type": "nominal"}}},
            {"mark": "area", "encoding": {"x": {"field": "h", "type": "quantitative"}, "y": {"field": "lo70", "type": "quantitative"}, "y2": {"field": "hi70"}, "color": {"datum": "70%", "type": "nominal"}}},
            {"mark": "area", "encoding": {"x": {"field": "h", "type": "quantitative"}, "y": {"field": "lo50", "type": "quantitative"}, "y2": {"field": "hi50"}, "color": {"datum": "50%", "type": "nominal"}}},
            {"mark": "area", "encoding": {"x": {"field": "h", "type": "quantitative"}, "y": {"field": "lo30", "type": "quantitative"}, "y2": {"field": "hi30"}, "color": {"datum": "30% interval spolehlivosti", "type": "nominal"}}},
            {"mark": {"type": "rule", "color": "#000", "strokeWidth": 2.5}, "encoding": {"y": {"datum": 0, "type": "quantitative"}}},
            {"mark": {"type": "line", "color": "#000", "strokeWidth": 3}, "encoding": {"x": {"field": "h", "type": "quantitative"}, "y": {"field": "m", "type": "quantitative"}}},
            {"transform": [{"filter": "datum.h === 0"}], "mark": {"type": "text", "baseline": "top", "align": "center", "dy": 4, "font": "Open Sans", "fontSize": 16.5, "fill": "#1a1a1a", "lineBreak": "\n", "lineHeight": 22}, "encoding": {"x": {"datum": 12, "type": "quantitative"}, "y": {"datum": 0.1, "type": "quantitative"}, "text": {"value": "Bankovní marže na úvěry na bydlení"}}}
          ]
        }
      ]
    }
  ],
  "config": {
    "locale": {"number": {"decimal": ",", "thousands": " ", "grouping": [3], "currency": ["", " Kč"], "minus": "-"}},
    "view": {"stroke": null},
    "area": {"opacity": 1},
    "axis": {"grid": false, "title": null, "domainColor": "#000", "domainWidth": 1, "tickColor": "#000", "labelFont": "Open Sans", "labelFontSize": 15, "labelColor": "#1a1a1a"},
    "axisX": {"ticks": false, "labelPadding": 14, "labelFlush": false},
    "axisY": {"tickSize": 4, "labelPadding": 10}
  }
}
